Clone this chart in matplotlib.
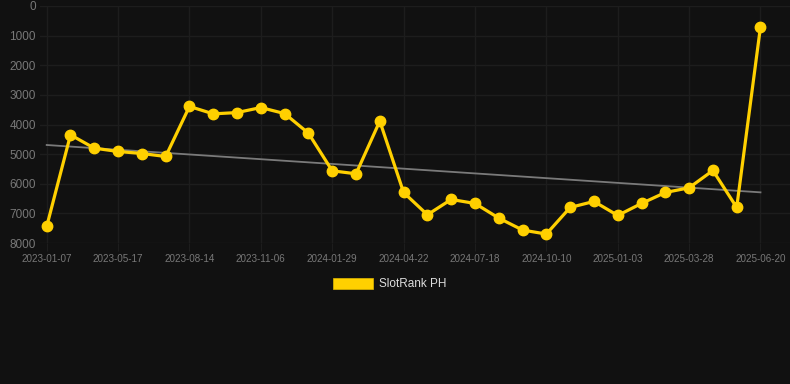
import matplotlib
matplotlib.use("Agg")
import matplotlib.pyplot as plt
import matplotlib.patches as mpatches
import numpy as np

plt.rcParams['font.family'] = ['Liberation Sans', 'DejaVu Sans']

dates = ["2023-01-07", "2023-02-20", "2023-04-04", "2023-05-17", "2023-06-16", "2023-07-15",
         "2023-08-14", "2023-09-11", "2023-10-09", "2023-11-06", "2023-12-04", "2024-01-01",
         "2024-01-29", "2024-02-26", "2024-03-25", "2024-04-22", "2024-05-21", "2024-06-19",
         "2024-07-18", "2024-08-15", "2024-09-12", "2024-10-10", "2024-11-07", "2024-12-06",
         "2025-01-03", "2025-01-31", "2025-02-28", "2025-03-28", "2025-04-25", "2025-05-23",
         "2025-06-20"]
rank = [7441, 4349, 4799, 4911, 4979, 5080, 3390, 3641, 3597, 3428, 3631, 4293, 5563, 5664,
        3885, 6295, 7047, 6530, 6665, 7159, 7563, 7698, 6800, 6597, 7070, 6665, 6295, 6136,
        5552, 6800, 700]
yticks = [0, 1000, 2000, 3000, 4000, 5000, 6000, 7000, 8000]
series_name = "SlotRank PH"

bg = "#111111"
gold = "#ffd000"
grid_c = "#1d1d1d"
tick_c = "#787878"

W, H = 790, 384
fig = plt.figure(figsize=(W / 100, H / 100), dpi=100, facecolor=bg)
ax = fig.add_axes([40 / W, 1 - 243 / H, 750 / W, 237 / H], facecolor=bg)

x = np.arange(len(dates))
coef = np.polyfit(x, rank, 1)
ax.plot(x, np.polyval(coef, x), color="#7a7a7a", lw=1.3, zorder=2)
ax.plot(x, rank, color=gold, lw=2.3, marker="o", ms=7.5, mfc=gold, mec=gold, zorder=3)

ax.set_ylim(8000, 0)
ax.set_yticks(yticks)
ax.set_yticklabels([str(v) for v in yticks])
ax.set_xlim(-0.2816, 31.24)
ticks = x[::3]
ax.set_xticks(ticks)
ax.set_xticklabels([dates[i] for i in ticks])

ax.grid(True, color=grid_c, lw=1)
ax.set_axisbelow(True)
for s in ax.spines.values():
    s.set_visible(False)
ax.tick_params(axis="y", length=0, pad=3, labelsize=8.5, labelcolor=tick_c)
ax.tick_params(axis="x", length=6, color=grid_c, pad=2, labelsize=7.1, labelcolor=tick_c)

handle = mpatches.Patch(facecolor=gold, edgecolor="#e0b800", lw=0.5)
leg = fig.legend([handle], [series_name], loc="center", bbox_to_anchor=(390 / W, 1 - 284 / H),
                 frameon=False, handlelength=3.4, handleheight=1.1, handletextpad=0.5,
                 fontsize=8.5, labelcolor="#dddddd")

fig.savefig("out.png", dpi=100, facecolor=bg)
